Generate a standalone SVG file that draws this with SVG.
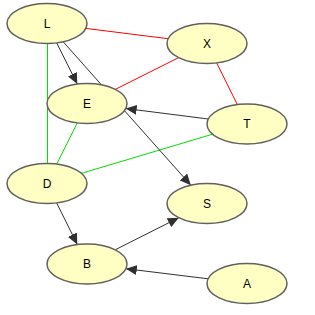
<svg xmlns="http://www.w3.org/2000/svg" width="315" height="315" viewBox="0 0 315 315">
<style>
.n ellipse{fill:#ffffc4;stroke:#606060;stroke-width:1.5}
.n text{font-family:"Liberation Sans",Arial,sans-serif;font-size:12px;fill:#000;text-anchor:middle;dominant-baseline:central}
.k{stroke:#303030;stroke-width:1;fill:none}
.r{stroke:#ff0000;stroke-width:1;fill:none}
.g{stroke:#00e000;stroke-width:1;fill:none}
</style>
<defs>
<marker id="ah" markerUnits="userSpaceOnUse" markerWidth="12" markerHeight="10" refX="11" refY="5" orient="auto">
<path d="M0,0 L11,5 L0,10 Z" fill="#303030"/>
</marker>
</defs>
<rect width="315" height="315" fill="#fff"/>
<g id="connectors">
<line class="r" x1="85.8" y1="28.4" x2="168.2" y2="38.7"/>
<line class="r" x1="115.3" y1="89.4" x2="178.7" y2="57.6"/>
<line class="r" x1="216.7" y1="63" x2="237.3" y2="104.5"/>
<line class="g" x1="47.5" y1="43.5" x2="47.5" y2="163.5"/>
<line class="g" x1="77.3" y1="122.9" x2="56.7" y2="164.1"/>
<line class="g" x1="212.6" y1="134.2" x2="81.6" y2="173.3"/>
<line class="k" x1="63.2" y1="41.8" x2="190.8" y2="185.2" marker-end="url(#ah)"/>
<line class="k" x1="56.7" y1="42.9" x2="77.3" y2="84.1" marker-end="url(#ah)"/>
<line class="k" x1="208.3" y1="119" x2="125.7" y2="108.5" marker-end="url(#ah)"/>
<line class="k" x1="56.7" y1="203" x2="77.3" y2="244.5" marker-end="url(#ah)"/>
<line class="k" x1="115.2" y1="249.8" x2="178.8" y2="217.7" marker-end="url(#ah)"/>
<line class="k" x1="208.2" y1="278.8" x2="125.8" y2="268.7" marker-end="url(#ah)"/>
</g>
<g id="node-L" class="n"><ellipse cx="47" cy="23.5" rx="40" ry="20"/><text x="47" y="23.5">L</text></g>
<g id="node-X" class="n"><ellipse cx="207" cy="43.5" rx="40" ry="20"/><text x="207" y="43.5">X</text></g>
<g id="node-E" class="n"><ellipse cx="87" cy="103.5" rx="40" ry="20"/><text x="87" y="103.5">E</text></g>
<g id="node-T" class="n"><ellipse cx="247" cy="124" rx="40" ry="20"/><text x="247" y="124">T</text></g>
<g id="node-D" class="n"><ellipse cx="47" cy="183.5" rx="40" ry="20"/><text x="47" y="183.5">D</text></g>
<g id="node-S" class="n"><ellipse cx="207" cy="203.5" rx="40" ry="20"/><text x="207" y="203.5">S</text></g>
<g id="node-B" class="n"><ellipse cx="87" cy="264" rx="40" ry="20"/><text x="87" y="264">B</text></g>
<g id="node-A" class="n"><ellipse cx="247" cy="283.5" rx="40" ry="20"/><text x="247" y="283.5">A</text></g>
</svg>
